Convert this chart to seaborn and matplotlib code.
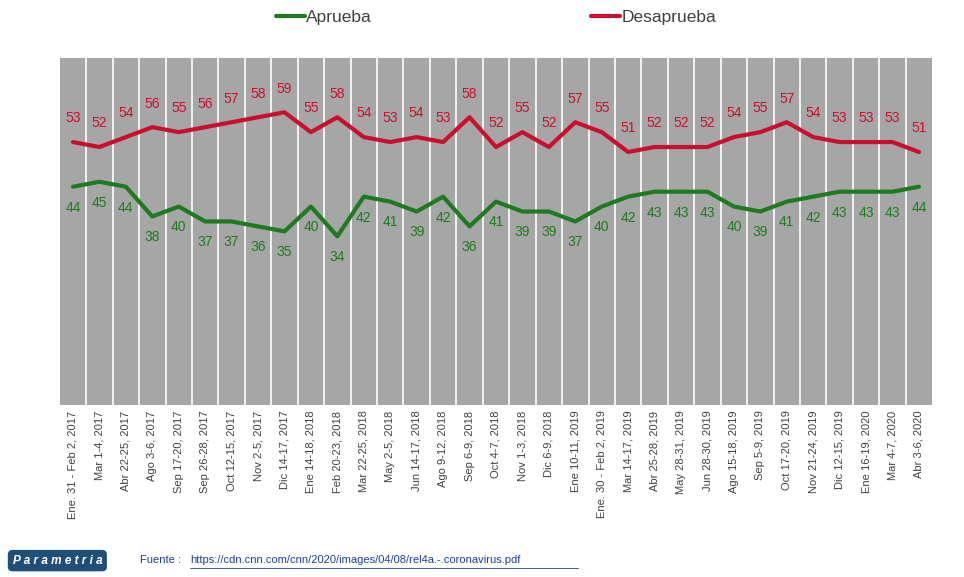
import pandas as pd
import numpy as np
import matplotlib.pyplot as plt
import seaborn as sns

# Encuestas (fechas de levantamiento)
fechas = ["Ene. 31 - Feb 2, 2017", "Mar 1-4, 2017", "Abr 22-25, 2017", "Ago 3-6, 2017",
          "Sep 17-20, 2017", "Sep 26-28, 2017", "Oct 12-15, 2017", "Nov 2-5, 2017",
          "Dic 14-17, 2017", "Ene 14-18, 2018", "Feb 20-23, 2018", "Mar 22-25, 2018",
          "May 2-5, 2018", "Jun 14-17, 2018", "Ago 9-12, 2018", "Sep 6-9, 2018",
          "Oct 4-7, 2018", "Nov 1-3, 2018", "Dic 6-9, 2018", "Ene 10-11, 2019",
          "Ene. 30 - Feb 2, 2019", "Mar 14-17, 2019", "Abr 25-28, 2019", "May 28-31, 2019",
          "Jun 28-30, 2019", "Ago 15-18, 2019", "Sep 5-9, 2019", "Oct 17-20, 2019",
          "Nov 21-24, 2019", "Dic 12-15, 2019", "Ene 16-19, 2020", "Mar 4-7, 2020",
          "Abr 3-6, 2020"]
aprueba = [44, 45, 44, 38, 40, 37, 37, 36, 35, 40, 34, 42, 41, 39, 42, 36, 41, 39, 39,
           37, 40, 42, 43, 43, 43, 40, 39, 41, 42, 43, 43, 43, 44]
desaprueba = [53, 52, 54, 56, 55, 56, 57, 58, 59, 55, 58, 54, 53, 54, 53, 58, 52, 55, 52,
              57, 55, 51, 52, 52, 52, 54, 55, 57, 54, 53, 53, 53, 51]

verde = "#1e7a1e"
rojo = "#c8102e"

df = pd.DataFrame({"fecha": fechas, "Aprueba": aprueba, "Desaprueba": desaprueba})
df["x"] = np.arange(len(df))
largo = df.melt(id_vars=["fecha", "x"], value_vars=["Aprueba", "Desaprueba"],
                var_name="serie", value_name="pct")

sns.set_style("white")
plt.rcParams['font.family'] = ['Liberation Sans', 'DejaVu Sans']

fig = plt.figure(figsize=(9.64, 5.77), dpi=100)
ax = fig.add_axes([0.062, 0.298, 0.905, 0.602])
ax.set_facecolor("#a6a6a6")

sns.lineplot(data=largo, x="x", y="pct", hue="serie", palette={"Aprueba": verde, "Desaprueba": rojo},
             linewidth=3, ax=ax, legend=True)

# Etiquetas de valores
for i, row in df.iterrows():
    ax.annotate(str(row["Desaprueba"]), (row["x"], row["Desaprueba"]), xytext=(0, 12),
                textcoords="offset points", ha="center", va="bottom", color=rojo,
                fontsize=10)
    ax.annotate(str(row["Aprueba"]), (row["x"], row["Aprueba"]), xytext=(0, -10),
                textcoords="offset points", ha="center", va="top", color=verde,
                fontsize=10)

# Separadores blancos entre encuestas
for b in np.arange(len(df) - 1) + 0.5:
    ax.axvline(b, color="white", linewidth=1.2, zorder=0.5)

ax.set_xlim(-0.5, len(df) - 0.5)
ax.set_ylim(0, 70)
ax.set_yticks([])
ax.set_xticks(df["x"])
ax.set_xticklabels(fechas, rotation=90, fontsize=8, color="#404040")
ax.tick_params(axis="x", length=0, pad=4)
ax.set_xlabel("")
ax.set_ylabel("")
for s in ax.spines.values():
    s.set_visible(False)

leg = ax.legend(loc="center", bbox_to_anchor=(0.5, 1.115), ncol=2, frameon=False,
                fontsize=12.5, columnspacing=12.6, handlelength=1.7, handletextpad=0.05)
for t in leg.get_texts():
    t.set_color("#404040")

# Pie de fuente
fig.text(0.013, 0.018, "P a r a m e t r i a", fontsize=8.5, color="white", fontweight="bold",
         style="italic", va="bottom",
         bbox=dict(boxstyle="round,pad=0.4", facecolor="#1f4e79", edgecolor="none"))
fig.text(0.145, 0.02, "Fuente : ", fontsize=8, color="#1f3f7f", va="bottom")
fig.text(0.197, 0.02, "https://cdn.cnn.com/cnn/2020/images/04/08/rel4a.-.coronavirus.pdf",
         fontsize=8, color="#1f3f9f", va="bottom")
fig.add_artist(plt.Line2D([0.197, 0.6], [0.016, 0.016], color="#1f3f9f", linewidth=0.6))

fig.savefig("out.png", dpi=100)
